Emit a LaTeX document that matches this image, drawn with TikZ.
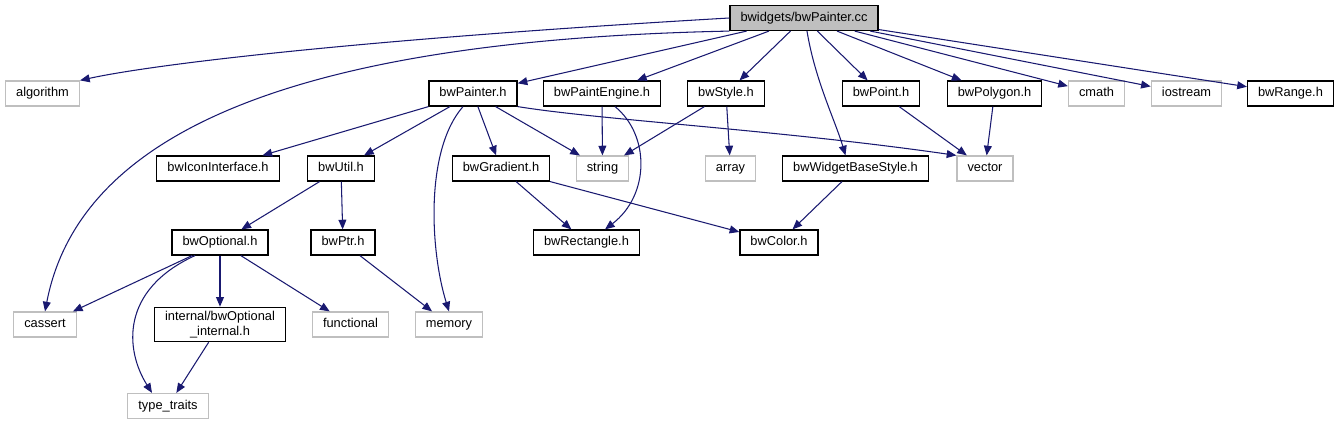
\documentclass[tikz,border=0pt]{standalone}
\usepackage{fontspec}
\setmainfont{Liberation Sans}
\usetikzlibrary{arrows.meta}
\definecolor{edgeblue}{HTML}{191970}
\definecolor{sysgray}{HTML}{BFBFBF}

\begin{document}
\begin{tikzpicture}[x=0.02cm, y=-0.02cm,
        box/.style={draw=black, line width=0.7pt, fill=white, minimum height=14.2pt,
            inner xsep=6pt, inner ysep=2pt, font=\fontsize{7.3}{8.8}\selectfont},
        file/.style={box, text height=5.4pt, text depth=1.6pt},
        sysfile/.style={file, draw=sysgray},
        mainfile/.style={file, fill=sysgray},
        dep/.style={draw=edgeblue, line width=0.6pt, -{Triangle[length=5.5pt,width=4.5pt]}}]
        \useasboundingbox (0,0) rectangle (1340,425);

        \node[mainfile] (cc) at (804,18) {bwidgets/bwPainter.cc};

        \node[sysfile] (algorithm) at (42.5,93.5) {algorithm};
        \node[file] (painter) at (473,93.5) {bwPainter.h};
        \node[file] (engine) at (602,93.5) {bwPaintEngine.h};
        \node[file] (style) at (726,93.5) {bwStyle.h};
        \node[file] (point) at (881,93.5) {bwPoint.h};
        \node[file] (polygon) at (994.5,93.5) {bwPolygon.h};
        \node[sysfile] (cmath) at (1096.5,93.5) {cmath};
        \node[sysfile] (iostream) at (1186.5,93.5) {iostream};
        \node[file] (range) at (1290.5,93.5) {bwRange.h};

        \node[file] (icon) at (218,168.5) {bwIconInterface.h};
        \node[file] (util) at (341,168.5) {bwUtil.h};
        \node[file] (gradient) at (501,168.5) {bwGradient.h};
        \node[sysfile] (string) at (602.5,168.5) {string};
        \node[sysfile] (array) at (730.5,168.5) {array};
        \node[file] (widgetstyle) at (855.5,168.5) {bwWidgetBaseStyle.h};
        \node[sysfile] (vector) at (985,168.5) {vector};

        \node[file] (optional) at (220,242.5) {bwOptional.h};
        \node[file] (ptr) at (343,242.5) {bwPtr.h};
        \node[file] (rectangle) at (586.5,242.5) {bwRectangle.h};
        \node[file] (color) at (779,242.5) {bwColor.h};

        \node[sysfile] (cassert) at (45,324.5) {cassert};
        \node[box, align=center] (internal) at (220,324.5) {internal/bwOptional\\\_internal.h};
        \node[sysfile] (functional) at (350.5,324.5) {functional};
        \node[sysfile] (memory) at (449,324.5) {memory};
        \node[sysfile] (typetraits) at (168,406) {type\_traits};

        %
        \draw[dep] (cc.west) .. controls (350,40) and (150,65) .. (algorithm.north east);
        \draw[dep] (cc.south west) .. controls (300,40) and (80,130) .. (cassert.north);
        \draw[dep] (cc) -- (painter);
        \draw[dep] (cc) -- (engine);
        \draw[dep] (cc) -- (style);
        \draw[dep] ([xshift=0.06cm]cc.south) .. controls (815,80) and (835,120) .. ([xshift=-0.2cm]widgetstyle.north);
        \draw[dep] (cc) -- (point);
        \draw[dep] (cc) -- (polygon);
        \draw[dep] (cc) -- (cmath);
        \draw[dep] (cc) -- (iostream);
        \draw[dep] (cc) -- (range);

        \draw[dep] (painter) -- (icon);
        \draw[dep] (painter) -- (util);
        \draw[dep] ([xshift=-0.2cm]painter.south) .. controls (425,150) and (430,250) .. (memory.north);
        \draw[dep] (painter) -- (gradient);
        \draw[dep] (painter) -- (string);
        \draw[dep] (painter.south east) .. controls (600,120) and (780,130) .. (vector.north west);

        \draw[dep] (engine) -- (string);
        \draw[dep] ([xshift=0.26cm]engine.south) .. controls (650,135) and (650,195) .. ([xshift=0.37cm]rectangle.north);
        \draw[dep] (style) -- (string);
        \draw[dep] (style) -- (array);
        \draw[dep] (point) -- (vector);
        \draw[dep] (polygon) -- (vector);

        \draw[dep] (util) -- (optional);
        \draw[dep] (util) -- (ptr);
        \draw[dep] (gradient) -- (rectangle);
        \draw[dep] (gradient) -- (color);
        \draw[dep] (widgetstyle) -- (color);

        \draw[dep] (optional) -- (cassert);
        \draw[dep] ([xshift=-0.5cm]optional.south) .. controls (120,290) and (125,350) .. ([xshift=-0.32cm]typetraits.north);
        \draw[dep] (optional) -- (internal);
        \draw[dep] (optional) -- (functional);
        \draw[dep] (ptr) -- (memory);
        \draw[dep] (internal) -- (typetraits);
    \end{tikzpicture}
\end{document}
